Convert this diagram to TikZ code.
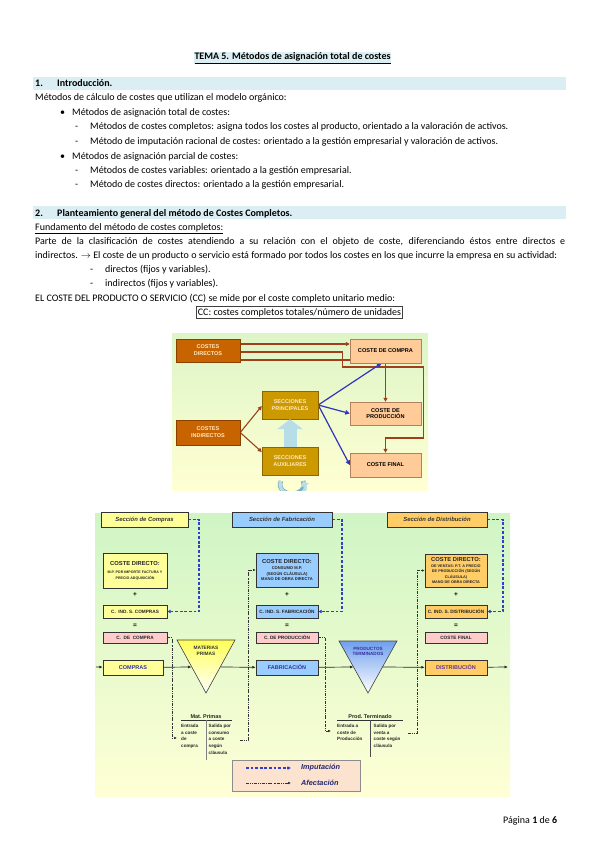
\documentclass[tikz,border=0pt]{standalone}
\usepackage{fontspec}
\setmainfont{Carlito}
\newfontfamily\dfont{Liberation Sans}
\usetikzlibrary{arrows.meta,shadows,calc}
\definecolor{bandblue}{HTML}{DAEEF3}
\definecolor{dkorange}{HTML}{C86400}
\definecolor{dkorangeB}{HTML}{8C4000}
\definecolor{goldc}{HTML}{CC9900}
\definecolor{goldB}{HTML}{8C6600}
\definecolor{peach}{HTML}{FFCC99}
\definecolor{peachB}{HTML}{B08060}
\definecolor{brnc}{HTML}{A0401A}
\definecolor{bluc}{HTML}{3333BB}
\definecolor{lblue}{HTML}{B7DEE8}
\definecolor{lblueB}{HTML}{7FB0C0}
\definecolor{creamtxt}{HTML}{FFE8C0}
\definecolor{yel}{HTML}{FFFF99}
\definecolor{sky}{HTML}{99CCFF}
\definecolor{ora}{HTML}{FFCC66}
\definecolor{pinkc}{HTML}{FFCCCC}
\definecolor{navy}{HTML}{333399}
\definecolor{impblue}{HTML}{3040C8}
\definecolor{purp}{HTML}{663399}
\definecolor{legbg}{HTML}{FBE3D0}
\definecolor{gA}{HTML}{DDF5C8}
\definecolor{gB}{HTML}{FFFFD2}
\definecolor{gtA}{HTML}{CFF5C5}
\definecolor{gtB}{HTML}{FFFFD5}
\definecolor{triY}{HTML}{FFFF55}
\definecolor{triB}{HTML}{6F9FEF}
\pgfdeclarelayer{bgl}
\pgfdeclarelayer{conn}
\pgfsetlayers{bgl,conn,main}
\newcommand{\bodyf}{\fontsize{10}{12}\selectfont}
\newcommand{\mybig}{\fontsize{5.8}{6.8}\selectfont}
\newcommand{\myss}{\fontsize{4.1}{5}\selectfont}
\newcommand{\myst}{\fontsize{3.8}{4.8}\selectfont}
\newcommand{\mysc}{\fontsize{3.6}{4.8}\selectfont}
\begin{document}
\begin{tikzpicture}[x=1pt,y=-1pt,
  tx/.style={anchor=base west,inner sep=0pt,font=\bodyf},
  shd/.style={drop shadow={shadow xshift=1.2pt,shadow yshift=-1.2pt,opacity=0.45,fill=black!60}},
  dark/.style={shd,fill=dkorange,draw=dkorangeB,text=creamtxt,align=center,inner sep=0pt,font={\dfont\bfseries\fontsize{5.5}{6.8}\selectfont}},
  goldbox/.style={shd,fill=goldc,draw=goldB,text=creamtxt,align=center,inner sep=0pt,font={\dfont\bfseries\fontsize{5.5}{6.8}\selectfont}},
  peachbox/.style={shd,fill=peach,draw=peachB,text=black,align=center,inner sep=0pt,font={\dfont\bfseries\fontsize{5.6}{6.8}\selectfont}},
  brnA/.style={draw=brnc,line width=1.1pt,-{Triangle[length=4pt,width=4pt]}},
  bluA/.style={draw=bluc,line width=1.2pt,-{Triangle[length=4.5pt,width=4.5pt]}},
  secbox/.style={shd,draw=black!80,inner sep=0pt,font={\dfont\bfseries\itshape\fontsize{5.9}{7}\selectfont},text=black!80},
  dbox/.style={shd,draw=black!80,inner sep=0pt,align=center,font={\dfont\bfseries\fontsize{4.7}{5.6}\selectfont},text=black!85},
  sym/.style={inner sep=0pt,font={\dfont\bfseries\fontsize{6.5}{6.5}\selectfont}},
  flow/.style={draw=black!85,line width=0.7pt,-{Latex[length=3.5pt,width=3pt]}},
  imp/.style={draw=impblue,line width=1.7pt,dash pattern=on 2.8pt off 1.8pt,-{Latex[length=3.5pt,width=4pt]}},
  afe/.style={draw=black!80,line width=0.6pt,dash pattern=on 3pt off 1.2pt on 0.6pt off 1.2pt on 0.6pt off 1.2pt,-{Latex[length=2.8pt,width=2.6pt]}},
  tsmall/.style={inner sep=0pt,align=left,anchor=north west,font={\dfont\bfseries\fontsize{4.6}{6.7}\selectfont},text=black!85},
  ttit/.style={anchor=base,inner sep=0pt,font={\dfont\bfseries\fontsize{5.5}{6}\selectfont},text=black!85}
]
\useasboundingbox (0,0) rectangle (599,848);

% ---------- backgrounds ----------
\begin{pgfonlayer}{bgl}
\fill[white] (0,0) rectangle (599,848);
\shade[top color=gA,bottom color=gB] (172,333) rectangle (428,490);
\shade[top color=gtA,bottom color=gtB] (95,513) rectangle (510,796);
\end{pgfonlayer}

% ---------- text part ----------
\node[anchor=base,inner sep=0.8pt,fill=bandblue,font=\bodyf\bfseries] (title) at (292.5,60) {\underline{TEMA 5. Métodos de asignación total de costes}};
\fill[bandblue] (33,77) rectangle (566,90);
\node[tx,font=\bodyf\bfseries] (n1) at (35,87) {1.};
\node[tx,font=\bodyf\bfseries] (h1) at (57,87) {Introducción.};
\node[tx] (l1) at (35,101) {Métodos de cálculo de costes que utilizan el modelo orgánico:};
\node[tx] (b1) at (60,116) {\textbullet};
\node[tx] (l2) at (72,116) {Métodos de asignación total de costes:};
\node[tx] (d1) at (75,130) {-};
\node[tx] (l3) at (90,130) {Métodos de costes completos: asigna todos los costes al producto, orientado a la valoración de activos.};
\node[tx] (d2) at (75,144) {-};
\node[tx] (l4) at (90,144) {Método de imputación racional de costes: orientado a la gestión empresarial y valoración de activos.};
\node[tx] (b2) at (60,159) {\textbullet};
\node[tx] (l5) at (72,159) {Métodos de asignación parcial de costes:};
\node[tx] (d3) at (75,173) {-};
\node[tx] (l6) at (90,173) {Métodos de costes variables: orientado a la gestión empresarial.};
\node[tx] (d4) at (75,187) {-};
\node[tx] (l7) at (90,187) {Método de costes directos: orientado a la gestión empresarial.};

\fill[bandblue] (33,206) rectangle (566,219);
\node[tx,font=\bodyf\bfseries] (n2) at (35,216) {2.};
\node[tx,font=\bodyf\bfseries] (h2) at (57,216) {Planteamiento general del método de Costes Completos.};
\node[tx] (l8) at (35,230) {\underline{Fundamento del método de costes completos:}};
\node[tx] (l9) at (35,244) {\makebox[530pt][s]{Parte de la clasificación de costes atendiendo a su relación con el objeto de coste, diferenciando éstos entre directos e}};
\node[tx] (l10) at (35,258) {\makebox[522pt][s]{indirectos. $\rightarrow$ El coste de un producto o servicio está formado por todos los costes en los que incurre la empresa en su actividad:}};
\node[tx] (d5) at (90,272) {-};
\node[tx] (l11) at (105,272) {directos (fijos y variables).};
\node[tx] (d6) at (90,286) {-};
\node[tx] (l12) at (105,286) {indirectos (fijos y variables).};
\node[tx] (l13) at (35,301) {EL COSTE DEL PRODUCTO O SERVICIO (CC) se mide por el coste completo unitario medio:};
\node[anchor=base,draw=black!75,line width=0.6pt,inner xsep=1.5pt,inner ysep=2pt,font=\bodyf] (ccbox) at (299.5,315) {CC: costes completos totales/número de unidades};

% ---------- diagram 1 ----------
\node[dark,minimum width=64,minimum height=23] (cDir) at (208,350.5) {COSTES\\DIRECTOS};
\node[dark,minimum width=64,minimum height=25] (cInd) at (208,432.5) {COSTES\\INDIRECTOS};
\node[goldbox,minimum width=56,minimum height=28] (sPri) at (290,405) {SECCIONES\\PRINCIPALES};
\node[goldbox,minimum width=56,minimum height=28] (sAux) at (290,461) {SECCIONES\\AUXILIARES};
\node[peachbox,minimum width=71,minimum height=24] (cCom) at (385.5,351) {COSTE DE COMPRA};
\node[peachbox,minimum width=71,minimum height=23] (cPro) at (385.5,413.5) {COSTE DE\\PRODUCCIÓN};
\node[peachbox,minimum width=71,minimum height=24] (cFin) at (385.5,465) {COSTE FINAL};

\coordinate (dA) at ([yshift=6.5pt]cDir.east);
\coordinate (dB) at ([yshift=-1.5pt]cDir.east);
\coordinate (dC) at ([yshift=-9.5pt]cDir.east);
\begin{pgfonlayer}{conn}
\draw[brnA] (dA) -- (dA -| cCom.west);
\draw[brnA] (dB) -- ++(102,0) -- ++(0,15) -- ++(81,0) -- ++(0,71) -| (cFin.north);
\draw[brnA] (dC) -| (cPro.north);
\draw[brnA] (cInd.east) -- ([yshift=-1pt]sPri.west);
\draw[brnA] (cInd.east) -- ([yshift=9pt]sAux.west);
\draw[bluA] (sPri.east) -- ([xshift=-4pt]cCom.south);
\draw[bluA] (sPri.east) -- (cPro.west);
\draw[bluA] (sPri.east) -- (cFin.west);
\end{pgfonlayer}
\draw[lblue,line width=13pt,-{Triangle[length=10pt,width=25pt]}] (sAux.north) -- (sPri.south);
\begin{scope}
\clip (172,333) rectangle (428,490);
\draw[lblueB,line width=4.6pt] (281,481) .. controls (274,498) and (310,498) .. (303,481);
\draw[lblue,line width=3.2pt,-{Triangle[length=5pt,width=9pt]}] (281,481) .. controls (274,498) and (310,498) .. (303,481);
\end{scope}

% ---------- diagram 2 ----------
\node[secbox,fill=yel,minimum width=87,minimum height=15] (secC) at (144.5,519.5) {Sección de Compras};
\node[secbox,fill=sky,minimum width=100,minimum height=15] (secF) at (282,519.5) {Sección de Fabricación};
\node[secbox,fill=ora,minimum width=100,minimum height=15] (secD) at (437,519.5) {Sección de Distribución};

\node[dbox,fill=yel,minimum width=64,minimum height=35] (cdC) at (135,570.5) {\mybig COSTE DIRECTO:\\[3pt]\mysc M.P. POR IMPORTE FACTURA Y\\\mysc PRECIO ADQUISICIÓN};
\node[sym] (plC) at (135,595) {+};
\node[dbox,fill=yel,minimum width=64,minimum height=13] (ciC) at (135,611.5) {C.\ \ IND.\ S.\ COMPRAS};
\node[sym] (eqC) at (135,626) {=};
\node[dbox,fill=pinkc,minimum width=64,minimum height=11] (cC) at (135,637.5) {C.\ \ DE\ \ COMPRA};

\node[dbox,fill=sky,minimum width=62,minimum height=34] (cdF) at (287,570) {\mybig COSTE DIRECTO:\\[0.5pt]\myss CONSUMO M.P.\\\myss (SEGÚN CLÁUSULA)\\\myss MANO DE OBRA DIRECTA};
\node[sym] (plF) at (287,595) {+};
\node[dbox,fill=sky,minimum width=62,minimum height=13] (ciF) at (287,611.5) {C.\ IND.\ S.\ FABRICACIÓN};
\node[sym] (eqF) at (287,626) {=};
\node[dbox,fill=pinkc,minimum width=62,minimum height=11] (cF) at (287,637.5) {C.\ DE\ PRODUCCIÓN};

\node[dbox,fill=ora,minimum width=62,minimum height=33] (cdD) at (456,570.5) {\mybig COSTE DIRECTO:\\[0.3pt]\myst DE VENTAS: P.T. A PRECIO\\\myst DE PRODUCCIÓN (SEGÚN\\\myst CLÁUSULA)\\\myst MANO DE OBRA DIRECTA};
\node[sym] (plD) at (456,595) {+};
\node[dbox,fill=ora,minimum width=62,minimum height=13] (ciD) at (456,611.5) {C.\ IND.\ S.\ DISTRIBUCIÓN};
\node[sym] (eqD) at (456,626) {=};
\node[dbox,fill=pinkc,minimum width=62,minimum height=11] (cD) at (456,637.5) {COSTE FINAL};

\node[dbox,fill=yel,text=navy,minimum width=60,minimum height=15,font={\dfont\bfseries\fontsize{5.5}{6}\selectfont}] (compras) at (133,667.5) {COMPRAS};
\node[dbox,fill=sky,text=navy,minimum width=62,minimum height=15,font={\dfont\bfseries\fontsize{5.5}{6}\selectfont}] (fabric) at (287,667.5) {FABRICACIÓN};
\node[dbox,fill=ora,text=purp,minimum width=62,minimum height=15,font={\dfont\bfseries\fontsize{5.5}{6}\selectfont}] (distrib) at (456,667.5) {DISTRIBUCIÓN};

% triangles
\shade[top color=triY,bottom color=white,draw=black!75,line width=0.6pt] (177,640) -- (235,640) -- (206,693) -- cycle;
\shade[top color=triB,bottom color=white,draw=black!75,line width=0.6pt] (339,641) -- (397,641) -- (368,693) -- cycle;
\node[inner sep=0pt,align=center,font={\dfont\bfseries\fontsize{4.8}{5.6}\selectfont},text=black!80] (mpT) at (206,651) {MATERIAS\\PRIMAS};
\node[inner sep=0pt,align=center,font={\dfont\bfseries\fontsize{4.6}{5.4}\selectfont},text=navy] (ptT) at (368,651.5) {PRODUCTOS\\TERMINADOS};
\coordinate (mpL) at (191.5,667);
\coordinate (mpR) at (220.5,667);
\coordinate (ptL) at (353.5,667);
\coordinate (ptR) at (382.5,667);
\coordinate (fin0) at (96,667);
\coordinate (fout) at (508,667);

\draw[flow] (fin0) -- (compras);
\draw[flow] (compras) -- (mpL);
\draw[flow] (mpR) -- (fabric);
\draw[flow] (fabric) -- (ptL);
\draw[flow] (ptR) -- (distrib);
\draw[flow] (distrib) -- (fout);

% T accounts
\node[ttit] (mpTit) at (206,718) {Mat.\ Primas};
\draw[black!80,line width=0.7pt] (181,720) -- (232,720);
\draw[black!50,line width=0.4pt] (206,720) -- (206,760);
\node[tsmall] (mpE) at (181,724) {Entrada\\a coste\\de\\compra};
\node[tsmall] (mpS) at (208.5,724) {Salida por\\consumo\\a coste\\según\\cláusula};
\node[ttit] (ptTit) at (370,718) {Prod.\ Terminado};
\draw[black!80,line width=0.7pt] (337,720) -- (403,720);
\draw[black!70,line width=1pt] (370,720) -- (370,757);
\node[tsmall] (ptE) at (337,724) {Entrada a\\coste de\\Producción};
\node[tsmall] (ptS) at (373.5,724) {Salida por\\venta a\\coste según\\cláusula};
\coordinate (mpIn) at (177,738);
\coordinate (mpOut) at (240,740);
\coordinate (ptIn) at (331,731);
\coordinate (ptOut) at (408,733);

\begin{pgfonlayer}{conn}
\draw[imp] (secC.east) -- ++(11,0) |- (ciC.east);
\draw[imp] (secF.east) -- ++(10,0) |- (ciF.east);
\draw[imp] (secD.east) -- ++(16,0) |- (ciD.east);
\draw[afe] (cC.east) -- ++(5,0) |- (mpIn);
\draw[afe] (mpOut) -- ++(8,0) |- (cdF.west);
\draw[afe] (cF.east) -- ++(7,0) |- (ptIn);
\draw[afe] (ptOut) -- ++(9,0) |- (cdD.west);
\end{pgfonlayer}

% legend
\node[draw=black!45,fill=legbg,minimum width=128,minimum height=31,anchor=north west,inner sep=0pt] (leg) at (232,760) {};
\coordinate (la1) at (246,768);
\coordinate (la2) at (291,768);
\coordinate (lb1) at (246,783);
\coordinate (lb2) at (291,783);
\draw[imp] (la1) -- (la2);
\draw[afe,line width=0.9pt] (lb1) -- (lb2);
\node[anchor=west,inner sep=0pt,font={\dfont\bfseries\itshape\fontsize{7.3}{8}\selectfont},text=navy!70!black] (limp) at (301,768) {Imputación};
\node[anchor=west,inner sep=0pt,font={\dfont\bfseries\itshape\fontsize{7.3}{8}\selectfont},text=navy!70!black] (lafe) at (301,783) {Afectación};

% footer
\node[tx] (pg) at (503,823) {Página \textbf{1} de \textbf{6}};
\end{tikzpicture}
\end{document}
